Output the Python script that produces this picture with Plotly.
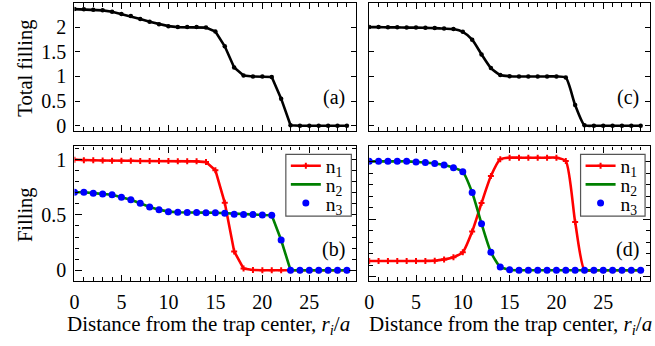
import plotly.graph_objects as go

# ---------------- data ----------------
site = list(range(30))  # r_i / a

total_a = [2.365, 2.36, 2.35, 2.34, 2.31, 2.265, 2.225, 2.165, 2.11, 2.06,
           2.02, 2.0, 2.0, 2.0, 1.99, 1.91, 1.61, 1.18, 1.02, 1.0,
           1.0, 0.99, 0.55, 0.01, 0.0, 0.0, 0.0, 0.0, 0.0, 0.0]

total_c = [2.0, 2.0, 1.995, 1.995, 1.99, 1.99, 1.985, 1.98, 1.97, 1.96,
           1.905, 1.745, 1.447, 1.17, 1.03, 1.005, 1.0, 1.0, 1.0, 1.0,
           1.0, 0.976, 0.42, 0.01, 0.0, 0.0, 0.0, 0.0, 0.0, 0.0]

n1_b = [1.0, 0.995, 0.995, 0.993, 0.99, 0.99, 0.99, 0.988, 0.988, 0.987,
        0.987, 0.986, 0.986, 0.985, 0.978, 0.905, 0.61, 0.17, 0.015, 0.002,
        0.0, 0.0, 0.0, 0.0, 0.0, 0.0, 0.0, 0.0, 0.0, 0.0]
n2_b = [0.706, 0.706, 0.697, 0.69, 0.682, 0.66, 0.637, 0.605, 0.572, 0.548,
        0.53, 0.525, 0.522, 0.522, 0.521, 0.52, 0.516, 0.507, 0.505, 0.503,
        0.5, 0.498, 0.273, 0.0, 0.0, 0.0, 0.0, 0.0, 0.0, 0.0]
n3_b = [0.706, 0.706, 0.697, 0.69, 0.682, 0.66, 0.637, 0.605, 0.572, 0.548,
        0.53, 0.525, 0.522, 0.522, 0.521, 0.52, 0.516, 0.507, 0.505, 0.503,
        0.5, 0.498, 0.273, 0.0, 0.0, 0.0, 0.0, 0.0, 0.0, 0.0]

n1_d = [0.083, 0.083, 0.083, 0.083, 0.083, 0.083, 0.084, 0.086, 0.098, 0.118,
        0.163, 0.35, 0.608, 0.852, 1.004, 1.018, 1.018, 1.018, 1.018, 1.018,
        1.018, 0.988, 0.436, 0.0, 0.0, 0.0, 0.0, 0.0, 0.0, 0.0]
n2_d = [0.985, 0.985, 0.985, 0.985, 0.985, 0.98, 0.975, 0.966, 0.952, 0.928,
        0.89, 0.703, 0.421, 0.163, 0.03, 0.005, 0.0, 0.0, 0.0, 0.0,
        0.0, 0.0, 0.0, 0.0, 0.0, 0.0, 0.0, 0.0, 0.0, 0.0]
n3_d = [0.985, 0.985, 0.985, 0.985, 0.985, 0.98, 0.975, 0.966, 0.952, 0.928,
        0.89, 0.703, 0.421, 0.163, 0.03, 0.005, 0.0, 0.0, 0.0, 0.0,
        0.0, 0.0, 0.0, 0.0, 0.0, 0.0, 0.0, 0.0, 0.0, 0.0]

x_tick_vals = [0, 5, 10, 15, 20, 25]
x_tick_text = ["0", "5", "10", "15", "20", "25"]
top_y_ticks = [0, 0.5, 1, 1.5, 2]
top_y_text = ["0", "0.5", "1", "1.5", "2"]
bot_y_ticks = [0, 0.5, 1]
bot_y_text = ["0", "0.5", "1"]
panel_labels = ["(a)", "(b)", "(c)", "(d)"]
series_names = ["n<sub>1</sub>", "n<sub>2</sub>", "n<sub>3</sub>"]

# ---------------- styling ----------------
W, H = 655, 346
FONT = "Liberation Serif"
RED, GREEN, BLUE = "#ff0000", "#008000", "#0000ff"


def px_x(a, b):
    return [a / W, b / W]


def px_y(top, bottom):
    return [1 - bottom / H, 1 - top / H]


dom_left = px_x(70, 354)
dom_right = px_x(367, 650)
dom_top = px_y(3, 133)
dom_bot = px_y(149, 286)

fig = go.Figure()

# top panels
fig.add_trace(go.Scatter(x=site, y=total_a, mode="lines+markers", showlegend=False,
                         line=dict(color="black", width=2.6),
                         marker=dict(color="black", size=4.5),
                         xaxis="x", yaxis="y"))
fig.add_trace(go.Scatter(x=site, y=total_c, mode="lines+markers", showlegend=False,
                         line=dict(color="black", width=2.6, shape="spline", smoothing=0.6),
                         marker=dict(color="black", size=4.5),
                         xaxis="x2", yaxis="y2"))

# bottom-left panel (one legend per row so rows sit as tight as in the reference)
fig.add_trace(go.Scatter(x=site, y=n1_b, mode="lines+markers", name=series_names[0],
                         line=dict(color=RED, width=2.6),
                         marker=dict(color=RED, size=5, symbol="cross"),
                         xaxis="x3", yaxis="y3", legend="legend"))
fig.add_trace(go.Scatter(x=site, y=n2_b, mode="lines", name=series_names[1],
                         line=dict(color=GREEN, width=2.6),
                         xaxis="x3", yaxis="y3", legend="legend2"))
fig.add_trace(go.Scatter(x=site, y=n3_b, mode="markers", name=series_names[2],
                         marker=dict(color=BLUE, size=7),
                         xaxis="x3", yaxis="y3", legend="legend3"))

# bottom-right panel
fig.add_trace(go.Scatter(x=site, y=n1_d, mode="lines+markers", name=series_names[0],
                         line=dict(color=RED, width=2.6, shape="spline", smoothing=0.6),
                         marker=dict(color=RED, size=5, symbol="cross"),
                         xaxis="x4", yaxis="y4", legend="legend4"))
fig.add_trace(go.Scatter(x=site, y=n2_d, mode="lines", name=series_names[1],
                         line=dict(color=GREEN, width=2.6, shape="spline", smoothing=0.6),
                         xaxis="x4", yaxis="y4", legend="legend5"))
fig.add_trace(go.Scatter(x=site, y=n3_d, mode="markers", name=series_names[2],
                         marker=dict(color=BLUE, size=7),
                         xaxis="x4", yaxis="y4", legend="legend6"))

axis_common = dict(showline=True, linecolor="black", linewidth=1.3, mirror="ticks",
                   ticks="inside", tickcolor="black", tickwidth=1.2,
                   showgrid=False, zeroline=False, ticklabelstandoff=3,
                   tickfont=dict(family=FONT, size=20, color="black"))


def xaxis(domain, anchor, labels):
    return dict(axis_common, domain=domain, anchor=anchor, range=[0, 30],
                tickmode="array", tickvals=x_tick_vals, ticktext=x_tick_text,
                ticklen=6, showticklabels=labels,
                minor=dict(tickmode="linear", tick0=0, dtick=1, ticks="inside",
                           ticklen=3.5, tickcolor="black", tickwidth=1))


# right-bottom frame carries its own tick spacing (no labels)
rb_ticks_major = [-0.0597 + 0.5194 * k for k in range(3)]
rb_ticks_minor = [-0.0597 + 0.10388 * k for k in range(11)]


def row_legend(x_px, y_px):
    return dict(x=x_px / W, y=1 - y_px / H, xanchor="left", yanchor="middle",
                bgcolor="rgba(0,0,0,0)", borderwidth=0,
                font=dict(family=FONT, size=19.5, color="black"),
                itemwidth=30, tracegroupgap=0)


rows = [169, 188, 207]

fig.update_layout(
    width=W, height=H,
    margin=dict(l=0, r=0, t=0, b=0),
    paper_bgcolor="white", plot_bgcolor="white",
    font=dict(family=FONT, size=20, color="black"),
    xaxis=xaxis(dom_left, "y", False),
    xaxis2=xaxis(dom_right, "y2", False),
    xaxis3=xaxis(dom_left, "y3", True),
    xaxis4=xaxis(dom_right, "y4", True),
    yaxis=dict(axis_common, domain=dom_top, anchor="x", range=[-0.1, 2.49],
               tickmode="array", tickvals=top_y_ticks, ticktext=top_y_text, ticklen=5),
    yaxis2=dict(axis_common, domain=dom_top, anchor="x2", range=[-0.1, 2.49],
                tickmode="array", tickvals=top_y_ticks, ticklen=5, showticklabels=False),
    yaxis3=dict(axis_common, domain=dom_bot, anchor="x3", range=[-0.098, 1.12],
                tickmode="array", tickvals=bot_y_ticks, ticktext=bot_y_text, ticklen=7,
                minor=dict(tickmode="linear", tick0=0, dtick=0.1, ticks="inside",
                           ticklen=4, tickcolor="black", tickwidth=1)),
    yaxis4=dict(axis_common, domain=dom_bot, anchor="x4", range=[-0.098, 1.12],
                tickmode="array", tickvals=rb_ticks_major, ticklen=7, showticklabels=False,
                minor=dict(tickmode="array", tickvals=rb_ticks_minor, ticks="inside",
                           ticklen=4, tickcolor="black", tickwidth=1)),
    legend=row_legend(283, rows[0]),
    legend2=row_legend(283, rows[1]),
    legend3=row_legend(283, rows[2]),
    legend4=row_legend(580, rows[0]),
    legend5=row_legend(580, rows[1]),
    legend6=row_legend(580, rows[2]),
)

# legend frames
for x0, x1 in [(283, 349), (580, 645)]:
    fig.add_shape(type="rect", xref="paper", yref="paper",
                  x0=x0 / W, x1=x1 / W, y0=1 - 220 / H, y1=1 - 157 / H,
                  line=dict(color="#555555", width=1.2), fillcolor="white", layer="above")

ann_font = dict(family=FONT, size=20, color="black")
for lab, xr, yr, yv in [(panel_labels[0], "x", "y", 0.57), (panel_labels[1], "x3", "y3", 0.19),
                        (panel_labels[2], "x2", "y2", 0.57), (panel_labels[3], "x4", "y4", 0.19)]:
    fig.add_annotation(text=lab, x=27.6, y=yv, xref=xr, yref=yr, showarrow=False,
                       xanchor="center", yanchor="middle", font=ann_font)

# axis titles
ytitle_font = dict(family=FONT, size=20.5, color="black")
fig.add_annotation(text="Total filling", x=21 / W, y=1 - 69 / H, xref="paper", yref="paper",
                   textangle=-90, showarrow=False, xanchor="center", yanchor="middle",
                   font=ytitle_font)
fig.add_annotation(text="Filling", x=20 / W, y=1 - 218 / H, xref="paper", yref="paper",
                   textangle=-90, showarrow=False, xanchor="center", yanchor="middle",
                   font=ytitle_font)
xtitle_font = dict(family=FONT, size=21, color="black")
xtitle = "Distance from the trap center, <i>r<sub>i</sub></i>/<i>a</i>"
for cx in (205.5, 509.5):
    fig.add_annotation(text=xtitle, x=cx / W, y=1 - 331 / H, xref="paper", yref="paper",
                       showarrow=False, xanchor="center", yanchor="middle", font=xtitle_font)

fig.write_html("out.html", config={"displayModeBar": False},
               post_script="document.body.style.margin='0';")
